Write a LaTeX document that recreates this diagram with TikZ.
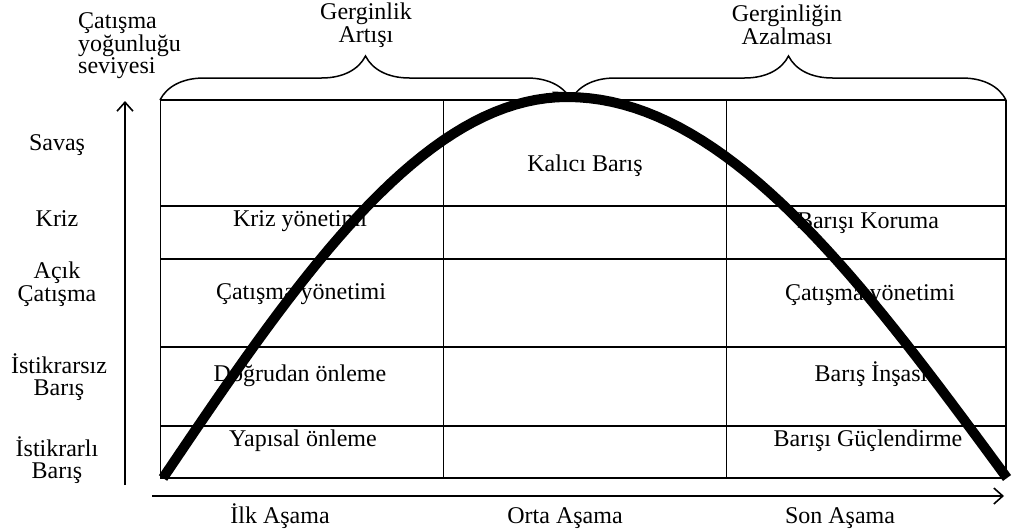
\documentclass[tikz,border=0pt]{standalone}
\usepackage{fontspec}
\setmainfont{Liberation Serif}
\usepackage{tikz}
\usetikzlibrary{arrows.meta, positioning, decorations.pathreplacing}

\begin{document}
\begin{tikzpicture}[
    x=1pt, y=-1pt,
    font=\fontsize{24}{22.5}\selectfont,
    lbl/.style={align=center, inner sep=0pt},
    cell/.style={anchor=base, inner sep=0pt},
    rowline/.style={line width=2pt},
    colline/.style={line width=0.8pt},
    arr/.style={-{Straight Barb[length=9pt, width=16pt]}, line width=1.6pt},
    brc/.style={decorate, decoration={brace, amplitude=44pt}, line width=1.5pt},
    wave/.style={line width=10pt}
  ]
    \useasboundingbox (0,0) rectangle (1014,531);
    % table
    \draw[colline] (160,100) -- (160,478);
    \draw[colline] (443,100) -- (443,478);
    \draw[colline] (726,100) -- (726,478);
    \draw[line width=1.2pt] (1006,100) -- (1006,478);
    \foreach \yy in {100,206,259,347,426,478}
      \draw[rowline] (160,\yy) -- (1006,\yy);
    % braces
    \draw[brc] (160,100) -- (571,100);
    \draw[brc] (571,100) -- (1006,100);
    \node[lbl] (artis) at (366,25) {Gerginlik\\Artışı};
    \node[lbl] (azalma) at (787,25) {Gerginliğin\\Azalması};
    % axes
    \coordinate (ybot) at (125,485);
    \coordinate (ytop) at (125,101);
    \coordinate (xl) at (152,496);
    \coordinate (xr) at (1004,496);
    \draw[arr] (ybot) -- (ytop);
    \draw[arr] (xl) -- (xr);
    \node[lbl, align=left, anchor=west] (yaxis) at (78,46) {Çatışma\\yoğunluğu\\seviyesi};
    % levels
    \node[cell] (savas) at (57,150) {Savaş};
    \node[cell] (kriz) at (57,226) {Kriz};
    \node[lbl] (acik) at (57,284) {Açık\\Çatışma};
    \node[lbl] (istsiz) at (59,377) {İstikrarsız\\Barış};
    \node[lbl] (istli) at (57,460) {İstikrarlı\\Barış};
    % stages
    \node[cell] (ilk) at (280,523) {İlk Aşama};
    \node[cell] (orta) at (565,523) {Orta Aşama};
    \node[cell] (son) at (840,523) {Son Aşama};
    % cells
    \node[cell] (kalici) at (585,171) {Kalıcı Barış};
    \node[cell] (krizy) at (300,226) {Kriz yönetimi};
    \node[cell] (koruma) at (868,228) {Barışı Koruma};
    \node[cell] (caty1) at (301,299) {Çatışma yönetimi};
    \node[cell] (caty2) at (870,300) {Çatışma yönetimi};
    \node[cell] (dogru) at (300,381) {Doğrudan önleme};
    \node[cell] (insa) at (871,381) {Barış İnşası};
    \node[cell] (yapi) at (303,446) {Yapısal önleme};
    \node[cell] (guc) at (868,446) {Barışı Güçlendirme};
    % curve
    \draw[wave] plot[domain=0:90, samples=40] ({163+4.489*\x}, {478-381*sin(\x)})
      -- plot[domain=90:180, samples=40] ({567+4.889*(\x-90)}, {478-381*sin(\x)});
  \end{tikzpicture}
\end{document}
